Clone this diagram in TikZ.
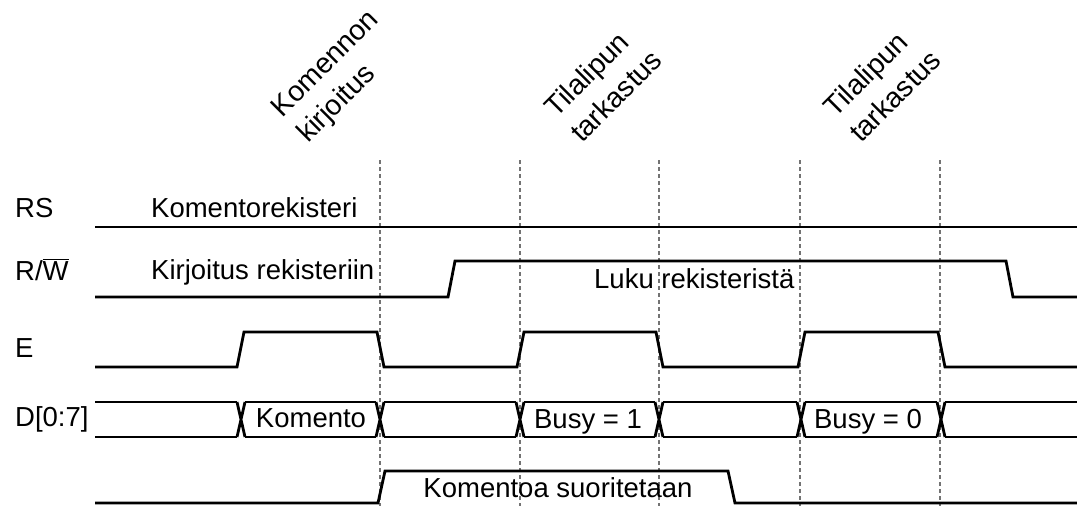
\documentclass[tikz,border=0pt]{standalone}
\usepackage{fontspec}
\setmainfont{Liberation Sans}
\begin{document}
\begin{tikzpicture}
  [x=1pt,y=-1pt,
   sig/.style={line width=2.8pt,line join=miter},
   guide/.style={draw=black!55,line width=2.2pt,dash pattern=on 4pt off 3pt},
   phase/.style={rotate=45,anchor=base west,align=left,font=\fontsize{28.5}{36}\selectfont},
   every node/.style={font=\fontsize{27.5}{33}\selectfont,inner sep=0pt}]
  \useasboundingbox (0,0) rectangle (1077,506);

  % time marks
  \foreach \x in {380,520,659,800,940}
    \draw[guide] (\x,160) -- (\x,506);

  % phase names
  \node (kirj) [phase] at (308,144) {Komennon\\kirjoitus};
  \node (tila1) [phase] at (582,144) {Tilalipun\\tarkastus};
  \node (tila2) [phase] at (861,144) {Tilalipun\\tarkastus};

  % signal names
  \node (rs) [anchor=base west] at (15,217) {RS};
  \node (rw) [anchor=base west] at (15,280) {R/$\overline{\mbox{W}}$};
  \node (e)  [anchor=base west] at (15,357) {E};
  \node (d)  [anchor=base west] at (15,426) {D[0:7]};

  % RS
  \draw[sig] (95,227) -- (1077,227);
  \node (komrek) [anchor=base west] at (151,217) {Komentorekisteri};

  % R/W
  \draw[sig] (95,297) -- (448,297) -- (455,261) -- (1006,261) -- (1013,297) -- (1077,297);
  \node (kirrek) [anchor=base west] at (151,279) {Kirjoitus rekisteriin};
  \node (lukrek) [anchor=base west] at (594,288) {Luku rekisteristä};

  % E
  \draw[sig] (95,367) -- (237,367) -- (244,332) -- (377,332) -- (384,367)
    -- (517,367) -- (524,332) -- (656,332) -- (663,367)
    -- (798,367) -- (805,332) -- (938,332) -- (945,367) -- (1077,367);

  % D[0:7]
  \foreach \a/\b in {91/241,241/380,380/520,520/659,659/801,801/941,941/1081}
    \draw[sig] (\a+4,402) -- (\b-4,402) (\a+4,437) -- (\b-4,437);
  \foreach \c in {241,380,520,659,801,941}
    \draw[sig] (\c-4,402) -- (\c+4,437) (\c-4,437) -- (\c+4,402);
  \node (kom) [anchor=base] at (311,427) {Komento};
  \node (busy1) [anchor=base] at (588,428) {Busy = 1};
  \node (busy0) [anchor=base] at (868,428) {Busy = 0};

  % busy
  \draw[sig] (95,503) -- (378,503) -- (385,471) -- (728,471) -- (735,503) -- (1077,503);
  \node (suor) [anchor=base] at (558,497) {Komentoa suoritetaan};

\end{tikzpicture}
\end{document}
